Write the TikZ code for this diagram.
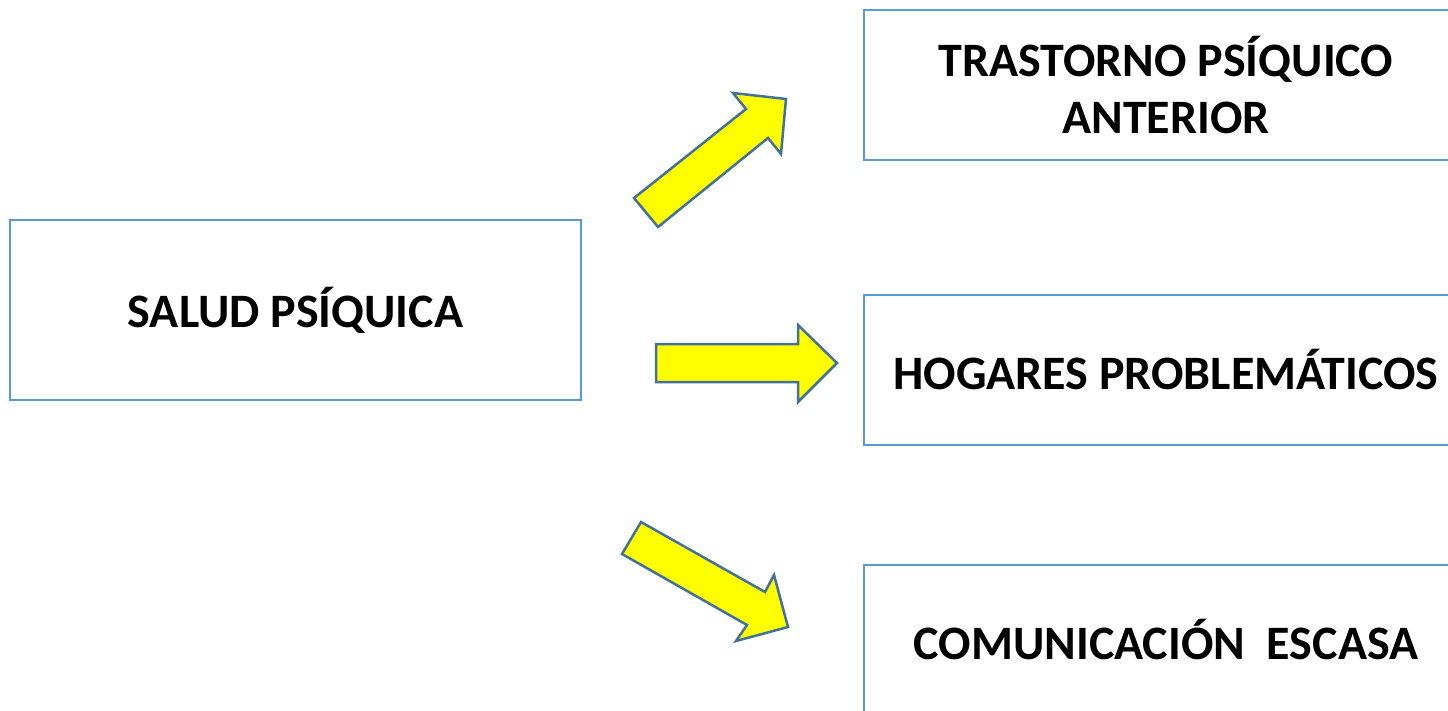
\documentclass[tikz,border=0pt]{standalone}
\usepackage{fontspec}
\setmainfont{Carlito}
\definecolor{boxblue}{HTML}{5B9BD5}
\definecolor{arrowblue}{HTML}{41719C}
\definecolor{arrowyellow}{HTML}{FFFF00}
\begin{document}
\begin{tikzpicture}[x=1pt,y=-1pt,
  labelbox/.style={draw=boxblue,line width=2pt,fill=white,minimum width=#1,inner sep=0pt,align=center,
    font=\fontsize{48}{57}\selectfont\bfseries},
  blockarrow/.style={draw=arrowblue,fill=arrowyellow,line width=2.5pt,line join=miter}]
\useasboundingbox (0,0) rectangle (1448,711);
\begin{scope}
\clip (0,0) rectangle (1448,711);
\node[labelbox=571pt,minimum height=180pt] (salud) at (295.5,310) {SALUD PSÍQUICA};
\node[labelbox=604pt,minimum height=150pt] (trast) at (1166,85) {TRASTORNO PSÍQUICO\\ANTERIOR};
\node[labelbox=604pt,minimum height=150pt] (hogar) at (1166,370) {HOGARES PROBLEMÁTICOS};
\node[labelbox=604pt,minimum height=150pt] (comun) at (1166,640) {COMUNICACIÓN~~ESCASA};
\end{scope}
% block arrows
\draw[blockarrow] (634,198) -- (746,109) -- (733,93) -- (786,99) -- (781,154) -- (768,138) -- (658,227) -- cycle;
\draw[blockarrow] (656,344) -- (798,344) -- (798,325) -- (837,363) -- (798,402) -- (798,382) -- (656,382) -- cycle;
\draw[blockarrow] (641,522) -- (765,592) -- (774,575) -- (788,627) -- (736,641) -- (747,625) -- (622,554) -- cycle;
\end{tikzpicture}
\end{document}
